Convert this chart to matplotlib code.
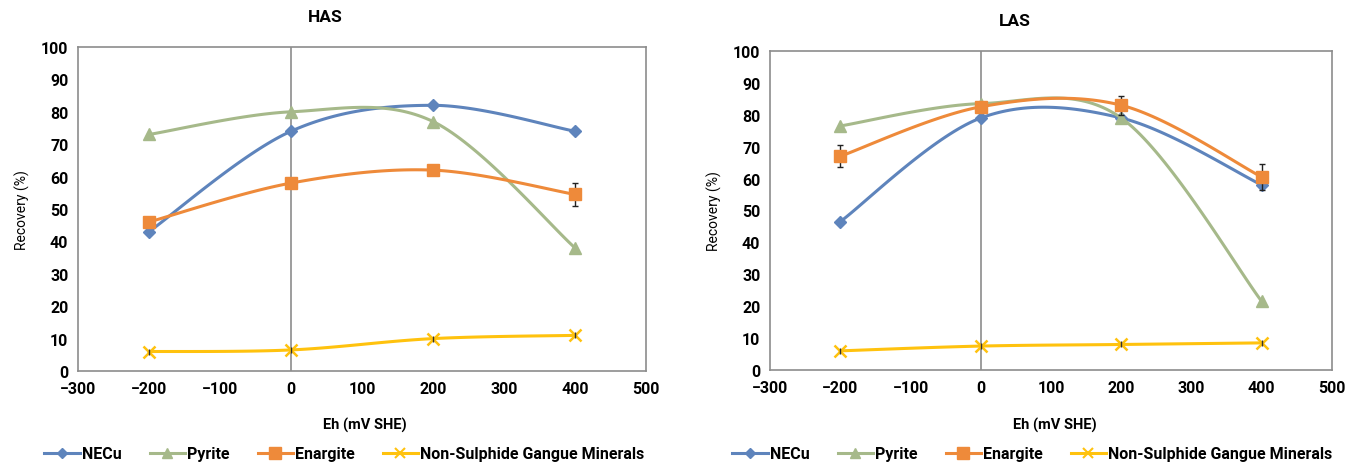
import numpy as np
import matplotlib.pyplot as plt
from matplotlib.lines import Line2D

plt.rcParams['font.family'] = ['Roboto', 'DejaVu Sans']
plt.rcParams['font.weight'] = 'bold'

eh = [-200, 0, 200, 400]

# HAS
has_necu = [43, 74, 82, 74]
has_pyrite = [73, 80, 77, 38]
has_enargite = [46, 58, 62, 54.5]
has_enargite_err = [1.5, 1.5, 1.5, 3.5]
has_nsg = [6, 6.5, 10, 11]

# LAS
las_necu = [46.5, 79, 79, 58]
las_pyrite = [76.5, 83.5, 79, 21.5]
las_enargite = [67, 82.5, 83, 60.5]
las_enargite_err = [3.5, 1.5, 3, 4]
las_nsg = [6, 7.5, 8, 8.5]

names = ['NECu', 'Pyrite', 'Enargite', 'Non-Sulphide Gangue Minerals']
colors = ['#5E84BC', '#A6B98A', '#EE8A3A', '#FFC20E']
markers = ['D', '^', 's', 'x']
msizes = [6, 8, 9, 8]


def smooth(x, y, n=40):
    # excel style smoothed line (bezier through the points)
    p = np.column_stack([x, y]).astype(float)
    p = np.vstack([p[0], p, p[-1]])
    out = []
    for i in range(1, len(p) - 2):
        a, b = p[i], p[i + 1]
        c1 = a + (p[i + 1] - p[i - 1]) / 6
        c2 = b - (p[i + 2] - p[i]) / 6
        t = np.linspace(0, 1, n)[:, None]
        seg = (1 - t) ** 3 * a + 3 * (1 - t) ** 2 * t * c1 + 3 * (1 - t) * t ** 2 * c2 + t ** 3 * b
        out.append(seg)
    out = np.vstack(out)
    return out[:, 0], out[:, 1]


def draw_panel(ax, series, err, title, title_x, title_y, xlabel_x):
    for i, vals in enumerate(series):
        sx, sy = smooth(eh, vals)
        ax.plot(sx, sy, color=colors[i], lw=2.2, zorder=2 + i)
        if i == 2:
            ax.errorbar(eh, vals, yerr=err, fmt='none', ecolor='#222222',
                        elinewidth=1, capsize=2.5, zorder=2 + i)
        if markers[i] == 'x':
            ax.plot(eh, vals, ls='none', marker='x', ms=msizes[i], mew=1.8,
                    color=colors[i], zorder=6)
            ax.plot(eh, vals, ls='none', marker='|', ms=4, mew=1,
                    color='#333333', zorder=7)
        else:
            ax.plot(eh, vals, ls='none', marker=markers[i], ms=msizes[i],
                    color=colors[i], zorder=3 + i)
    ax.set_xlim(-300, 500)
    ax.set_ylim(0, 100)
    ax.set_xticks(range(-300, 501, 100))
    ax.set_yticks(range(0, 101, 10))
    ax.axvline(0, color='#8C8C8C', lw=1.2, zorder=1)
    for s in ax.spines.values():
        s.set_color('#8C8C8C')
        s.set_linewidth(1.2)
    ax.tick_params(length=0, labelsize=11.5, pad=7)
    ax.set_ylabel('Recovery (%)', fontsize=10, labelpad=8)
    ax.figure.text(xlabel_x, 464 - 425, 'Eh (mV SHE)', transform=None,
                   ha='center', va='center', fontsize=10.5, weight='bold')
    ax.figure.text(title_x, 464 - title_y, title, transform=None,
                   ha='center', va='center', fontsize=12.5, weight='bold')


fig = plt.figure(figsize=(13.51, 4.64), dpi=100)
W, H = 1351, 464
ax1 = fig.add_axes([78 / W, 1 - 372 / H, (646 - 78) / W, (372 - 48) / H])
ax2 = fig.add_axes([770 / W, 1 - 371 / H, (1332 - 770) / W, (371 - 52) / H])

draw_panel(ax1, [has_necu, has_pyrite, has_enargite, has_nsg], has_enargite_err,
           'HAS', 325, 18, 365)
draw_panel(ax2, [las_necu, las_pyrite, las_enargite, las_nsg], las_enargite_err,
           'LAS', 1015, 22, 1055)

handles = []
for i in range(4):
    handles.append(Line2D([], [], color=colors[i], lw=2.2, marker=markers[i],
                          ms=msizes[i] - 1, mew=1.5 if markers[i] == 'x' else 1))
for x0 in [30, 718]:
    fig.legend(handles, names, loc='center left', bbox_to_anchor=(x0 / W, 1 - 455 / H),
               ncol=4, frameon=False, fontsize=11.5, handlelength=2.2,
               handletextpad=0.15, columnspacing=1.75)

fig.savefig('out.png', dpi=100)
